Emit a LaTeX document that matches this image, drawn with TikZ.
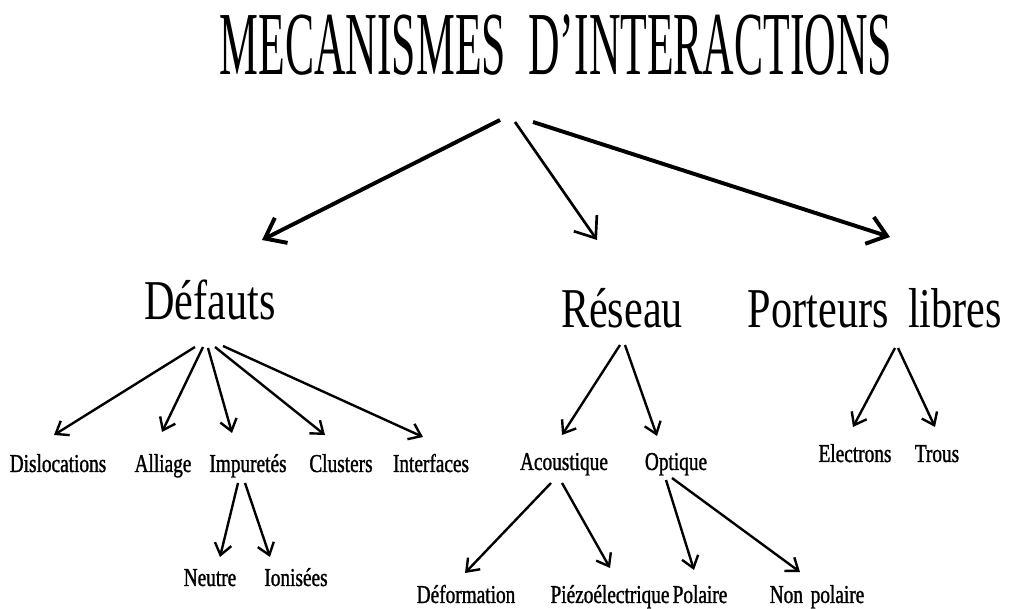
\documentclass[tikz,border=0pt]{standalone}
\usepackage{fontspec}
\setmainfont[FakeStretch=0.75]{Liberation Serif}
\newfontfamily\titlefont[FakeStretch=0.485]{Liberation Serif}
\newfontfamily\leaffont[FakeStretch=0.75,FakeBold=1.2]{Liberation Serif}
\usepackage{tikz}
\usetikzlibrary{arrows.meta,calc}

\begin{document}
\begin{tikzpicture}[
    x=0.025cm, y=-0.025cm,
    toptitle/.style={font=\titlefont\fontsize{64}{64}\selectfont, inner sep=0pt, anchor=base},
    branch/.style={font=\fontsize{40}{40}\selectfont, inner sep=0pt, anchor=base},
    leaf/.style={font=\leaffont\fontsize{18.3}{20}\selectfont, inner sep=0pt, anchor=base},
    bigarr/.style={-{Straight Barb[length=13pt,width=20pt]}, line width=#1},
    bigarr/.default=2.8pt,
    arr/.style={-{Straight Barb[length=8pt,width=12pt]}, line width=1.7pt},
  ]
  \useasboundingbox (0,0) rectangle (1009,609);

  % =================== Title ===================
  \node[toptitle] (title) at (556,75) {MECANISMES\hspace{0.25em}D’INTERACTIONS};

  % =================== Main branches ===================
  \node[branch] (defauts) at (210,320) {Défauts};
  \node[branch] (reseau) at (622,328) {Réseau};
  \node[branch] (porteurs) at (875,328) {Porteurs\hspace{0.35em}libres};

  \draw[bigarr] ($(title.base)+(-56,45)$) -- ($(defauts.base)+(52,-80)$);
  \draw[bigarr=1.9pt] ($(title.base)+(-41,47)$) -- ($(reseau.base)+(-25,-88)$);
  \draw[bigarr] ($(title.base)+(-23,47)$) -- ($(porteurs.base)+(15,-91)$);

  % =================== Defauts ===================
  \node[leaf] (disloc) at (58,472) {Dislocations};
  \node[leaf] (alliage) at (163,472) {Alliage};
  \node[leaf] (impur) at (248,472) {Impuretés};
  \node[leaf] (clusters) at (341,472) {Clusters};
  \node[leaf] (interf) at (431,472) {Interfaces};

  \draw[arr] ($(defauts.base)+(-15,27)$) -- ($(disloc.base)+(-4,-37)$);
  \draw[arr] ($(defauts.base)+(-7,27)$) -- ($(alliage.base)+(-1,-40)$);
  \draw[arr] ($(defauts.base)+(-2,28)$) -- ($(impur.base)+(-16,-39)$);
  \draw[arr] ($(defauts.base)+(5,27)$) -- ($(clusters.base)+(-16,-37)$);
  \draw[arr] ($(defauts.base)+(13,26)$) -- ($(interf.base)+(-8,-35)$);

  % Impuretes
  \node[leaf] (neutre) at (210,586) {Neutre};
  \node[leaf] (ionis) at (296,586) {Ionisées};

  \draw[arr] ($(impur.base)+(-10,11)$) -- ($(neutre.base)+(10,-29)$);
  \draw[arr] ($(impur.base)+(-3,11)$) -- ($(ionis.base)+(-26,-29)$);

  % =================== Reseau ===================
  \node[leaf] (acoust) at (564,470) {Acoustique};
  \node[leaf] (optique) at (676,470) {Optique};

  \draw[arr] ($(reseau.base)+(-2,17)$) -- ($(acoust.base)+(-2,-35)$);
  \draw[arr] ($(reseau.base)+(3,17)$) -- ($(optique.base)+(-19,-34)$);

  \node[leaf] (deform) at (466,603) {Déformation};
  \node[leaf] (piezo) at (610,603) {Piézoélectrique};
  \node[leaf] (polaire) at (700,603) {Polaire};
  \node[leaf] (nonpol) at (817,603) {Non\hspace{0.3em}polaire};

  \draw[arr] ($(acoust.base)+(-13,13)$) -- ($(deform.base)+(-1,-30)$);
  \draw[arr] ($(acoust.base)+(-2,13)$) -- ($(piezo.base)+(0,-35)$);
  \draw[arr] ($(optique.base)+(-10,10)$) -- ($(polaire.base)+(-6,-33)$);
  \draw[arr] ($(optique.base)+(-4,8)$) -- ($(nonpol.base)+(-17,-31)$);

  % =================== Porteurs libres ===================
  \node[leaf] (electr) at (855,462) {Electrons};
  \node[leaf] (trous) at (937,462) {Trous};

  \draw[arr] ($(porteurs.base)+(20,20)$) -- ($(electr.base)+(-2,-35)$);
  \draw[arr] ($(porteurs.base)+(23,20)$) -- ($(trous.base)+(-2,-35)$);

\end{tikzpicture}
\end{document}
